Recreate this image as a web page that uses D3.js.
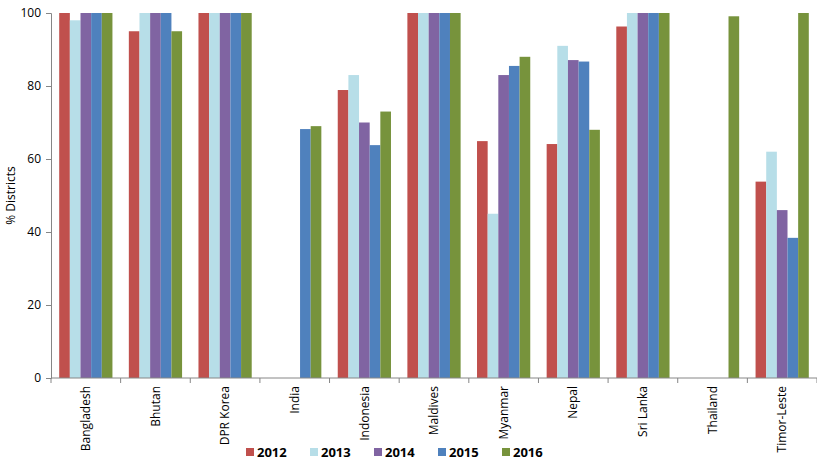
<!DOCTYPE html>
<html>
<head>
<meta charset="utf-8">
<script src="https://cdn.jsdelivr.net/npm/d3@7"></script>
<style>
  body { margin: 0; background: #fff; }
  text { font-family: "Open Sans", "Liberation Sans", sans-serif; fill: #000; }
</style>
</head>
<body>
<svg width="817" height="474"></svg>
<script>
// data
var countries = ["Bangladesh", "Bhutan", "DPR Korea", "India", "Indonesia", "Maldives",
  "Myanmar", "Nepal", "Sri Lanka", "Thailand", "Timor-Leste"];
var years = ["2012", "2013", "2014", "2015", "2016"];
var v2012 = [100, 95, 100, null, 78.9, 100, 64.9, 64.1, 96.3, null, 53.8];
var v2013 = [98, 100, 100, null, 83, 100, 45, 91, 100, null, 62];
var v2014 = [100, 100, 100, null, 70, 100, 83, 87.1, 100, null, 46];
var v2015 = [100, 100, 100, 68.2, 63.8, 100, 85.5, 86.7, 100, null, 38.4];
var v2016 = [100, 95, 100, 69, 73, 100, 88, 68, 100, 99.1, 100];
var yTicks = [0, 20, 40, 60, 80, 100];
var colors = ["#C0504D", "#B7DEE8", "#8064A2", "#4F81BD", "#77933C"];

var series = [v2012, v2013, v2014, v2015, v2016];

var svg = d3.select("svg"),
  margin = {top: 13, right: 0, bottom: 96, left: 51},
  width = +svg.attr("width") - margin.left - margin.right,
  height = +svg.attr("height") - margin.top - margin.bottom;

var g = svg.append("g").attr("transform", "translate(" + margin.left + "," + margin.top + ")");

var x0 = d3.scaleBand().domain(countries).range([0, width]).paddingInner(0).paddingOuter(0);
var x1 = d3.scaleBand().domain(years).range([8.2, x0.bandwidth() - 8.2]);
var y = d3.scaleLinear().domain([0, 100]).range([height, 0]);

// bars
var groups = g.selectAll(".grp")
  .data(countries)
  .enter().append("g")
  .attr("class", "grp")
  .attr("transform", function (d) { return "translate(" + x0(d) + ",0)"; });

groups.selectAll("rect")
  .data(function (d, i) {
    return years.map(function (yr, k) { return {year: yr, k: k, value: series[k][i]}; })
      .filter(function (e) { return e.value != null; });
  })
  .enter().append("rect")
  .attr("x", function (d) { return x1(d.year); })
  .attr("width", x1.bandwidth())
  .attr("y", function (d) { return y(d.value); })
  .attr("height", function (d) { return height - y(d.value); })
  .attr("fill", function (d) { return colors[d.k]; });

// y axis
var yAxis = g.append("g")
  .call(d3.axisLeft(y).tickValues(yTicks).tickSize(5).tickPadding(5));
yAxis.select(".domain").attr("stroke", "#868686");
yAxis.selectAll(".tick line").attr("stroke", "#868686");
yAxis.selectAll("text").style("font-size", "12px");

// x axis, ticks at category boundaries
var xAxis = g.append("g").attr("transform", "translate(0," + height + ")");
xAxis.append("line")
  .attr("x1", 0).attr("x2", width)
  .attr("stroke", "#868686");
xAxis.selectAll(".bt")
  .data(countries.concat(["end"]))
  .enter().append("line")
  .attr("x1", function (d, i) { return i * x0.bandwidth(); })
  .attr("x2", function (d, i) { return i * x0.bandwidth(); })
  .attr("y1", 0).attr("y2", 5)
  .attr("stroke", "#868686");
xAxis.selectAll(".lbl")
  .data(countries)
  .enter().append("text")
  .attr("transform", function (d) {
    return "translate(" + (x0(d) + x0.bandwidth() / 2) + ",8) rotate(-90)";
  })
  .attr("text-anchor", "end")
  .attr("dy", "0.35em")
  .style("font-size", "12px")
  .text(function (d) { return d; });

// y title
svg.append("text")
  .attr("transform", "translate(11," + (margin.top + height / 2) + ") rotate(-90)")
  .attr("text-anchor", "middle")
  .attr("dy", "0.35em")
  .style("font-size", "12px")
  .text("% Districts");

// legend
var legend = svg.append("g").attr("transform", "translate(246,448)");
var li = legend.selectAll("g")
  .data(years)
  .enter().append("g")
  .attr("transform", function (d, i) { return "translate(" + (i * 64) + ",0)"; });
li.append("rect")
  .attr("width", 8).attr("height", 8)
  .attr("fill", function (d, i) { return colors[i]; });
li.append("text")
  .attr("x", 11).attr("y", 4)
  .attr("dy", "0.38em")
  .style("font-size", "13px")
  .style("font-weight", "bold")
  .text(function (d) { return d; });
</script>
</body>
</html>
